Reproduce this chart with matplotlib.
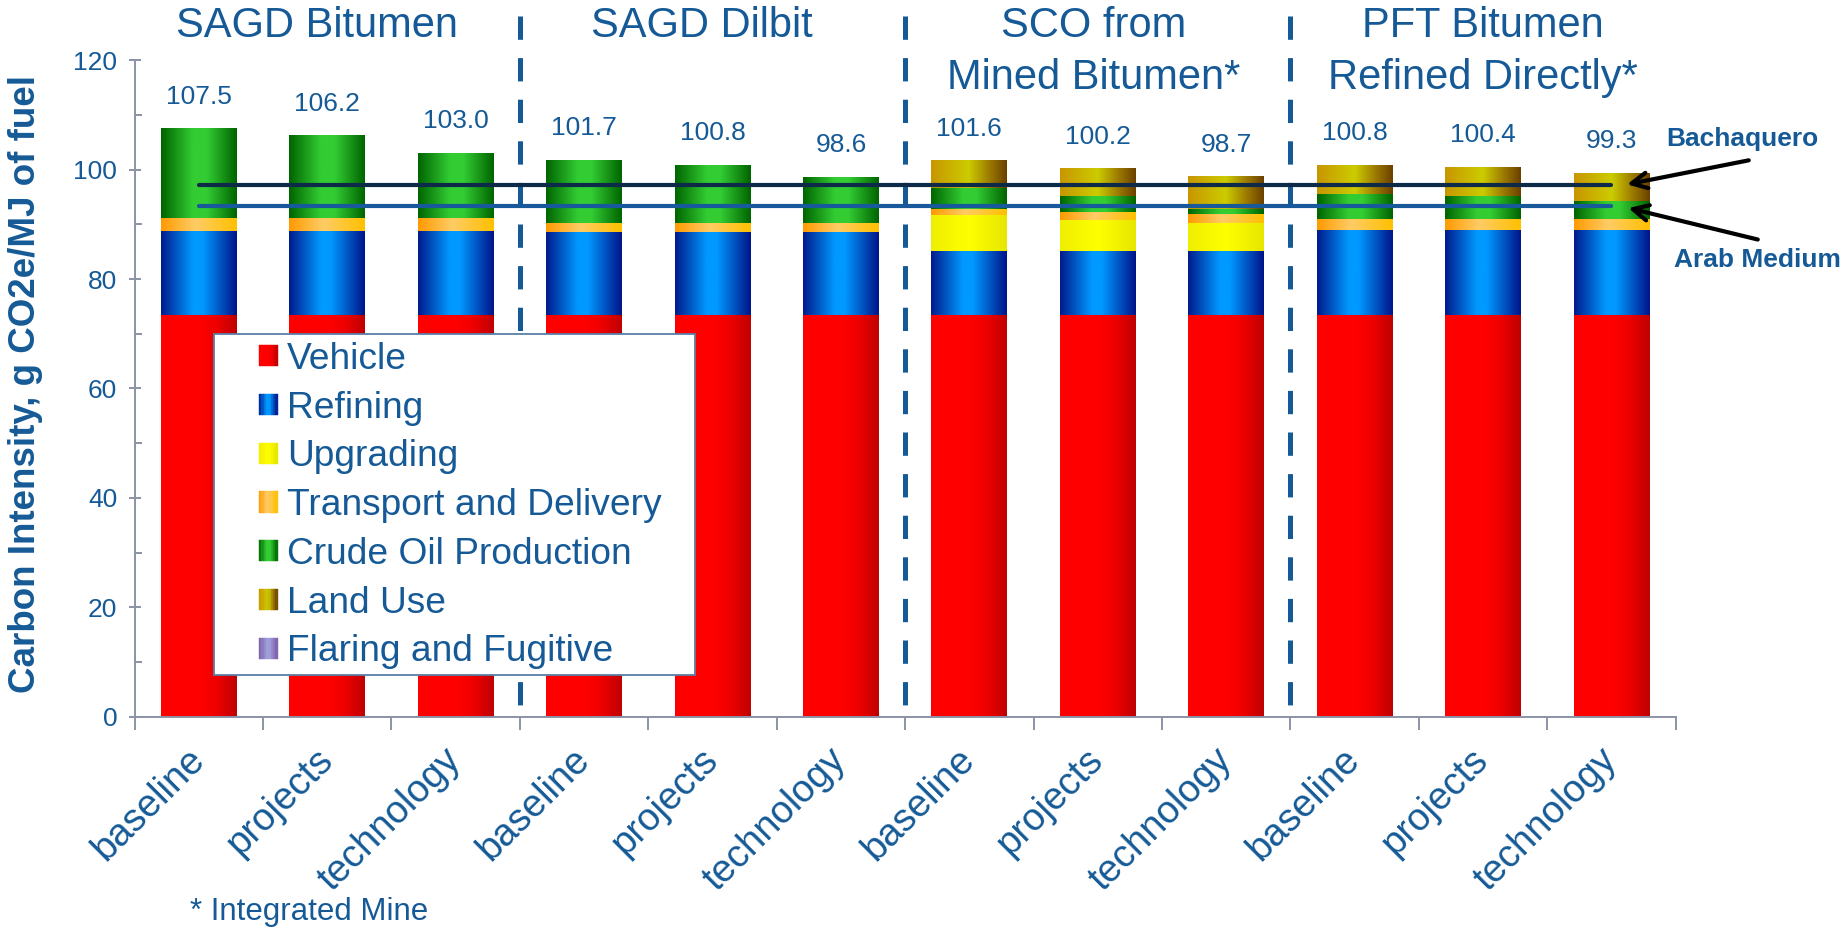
import numpy as np
import matplotlib
matplotlib.use("Agg")
import matplotlib.pyplot as plt
from matplotlib.colors import LinearSegmentedColormap
from matplotlib.patches import Patch, Rectangle
from matplotlib.legend_handler import HandlerBase

plt.rcParams['font.family'] = ['Liberation Sans', 'DejaVu Sans']

# Datos: intensidad de carbono por etapa (g CO2e/MJ)
grupos = ['SAGD Bitumen', 'SAGD Dilbit', 'SCO from\nMined Bitumen*', 'PFT Bitumen\nRefined Directly*']
casos = ['baseline', 'projects', 'technology'] * 4

vehicle = [73.5, 73.5, 73.5, 73.5, 73.5, 73.5, 73.5, 73.5, 73.5, 73.5, 73.5, 73.5]
refining = [15.3, 15.3, 15.3, 15.1, 15.1, 15.1, 11.7, 11.7, 11.7, 15.4, 15.4, 15.4]
upgrading = [0, 0, 0, 0, 0, 0, 6.5, 5.5, 5.1, 0, 0, 0]
transport = [2.4, 2.4, 2.4, 1.6, 1.6, 1.6, 1.1, 1.6, 1.6, 2.1, 2.1, 2.1]
crude = [16.3, 15.0, 11.8, 11.5, 10.6, 8.4, 3.8, 2.9, 0.9, 4.6, 4.1, 3.3]
land_use = [0, 0, 0, 0, 0, 0, 5.0, 5.0, 5.9, 5.2, 5.3, 5.0]
flaring = [0, 0, 0, 0, 0, 0, 0, 0, 0, 0, 0, 0]

bachaquero = 97.2
arab_medium = 93.3

# Colores con degradado horizontal para cada etapa
def degradado(nombre, puntos):
    return LinearSegmentedColormap.from_list(nombre, puntos)

series = [
    ('Vehicle', vehicle, degradado('veh', [(0, '#ff0000'), (0.5, '#ff0000'), (0.72, '#f00000'), (1, '#bf0000')])),
    ('Refining', refining, degradado('ref', [(0, '#001a8c'), (0.42, '#0099ff'), (0.55, '#0099ff'), (1, '#00148a')])),
    ('Upgrading', upgrading, degradado('upg', [(0, '#eeee00'), (0.5, '#ffff00'), (1, '#e6e600')])),
    ('Transport and Delivery', transport, degradado('tra', [(0, '#ff9a00'), (0.45, '#ffcc66'), (1, '#ffc000')])),
    ('Crude Oil Production', crude, degradado('cru', [(0, '#006400'), (0.42, '#33cc33'), (0.6, '#33cc33'), (1, '#006400')])),
    ('Land Use', land_use, degradado('lan', [(0, '#c89600'), (0.5, '#cccc00'), (0.75, '#a08000'), (1, '#6b4000')])),
    ('Flaring and Fugitive', flaring, degradado('fla', [(0, '#7b5fa8'), (0.5, '#a6a6e0'), (1, '#7b5fa8')])),
]

azul = '#155a96'
gris = '#8c93a6'
ancho = 0.59


class CuadroDegradado(HandlerBase):
    def __init__(self, cmap):
        super().__init__()
        self.cmap = cmap

    def create_artists(self, legend, orig_handle, xdescent, ydescent,
                       width, height, fontsize, trans):
        n = 8
        tiras = []
        for i in range(n):
            c = self.cmap((i + 0.5) / n)
            tiras.append(Rectangle((-xdescent + i * width / n, -ydescent), width / n, height,
                                   facecolor=c, edgecolor=c, lw=0.3, transform=trans))
        return tiras


fig = plt.figure(figsize=(18.45, 9.30), dpi=100)
ax = fig.add_axes([134.5 / 1845, 1 - 716.7 / 930, (1675.7 - 134.5) / 1845, (716.7 - 60.2) / 930])

x = np.arange(len(casos))
rampa = np.linspace(0, 1, 256).reshape(1, -1)
base = np.zeros(len(casos))
handles = []
handler_map = {}
for nombre, valores, cmap in series:
    barras = ax.bar(x, valores, ancho, bottom=base, color='none', edgecolor='none', zorder=2)
    for r in barras:
        if r.get_height() <= 0:
            continue
        x0, y0 = r.get_x(), r.get_y()
        ax.imshow(rampa, cmap=cmap, aspect='auto', interpolation='bilinear', zorder=2,
                  extent=(x0, x0 + r.get_width(), y0, y0 + r.get_height()))
    base = base + np.array(valores)
    h = Patch(label=nombre)
    handles.append(h)
    handler_map[h] = CuadroDegradado(cmap)

# Totales encima de cada barra
for xi, total in zip(x, base):
    ax.annotate(f'{total:.1f}', (xi, total), xytext=(0, 18), textcoords='offset points',
                ha='center', va='baseline', fontsize=19, color=azul)

# Crudos de referencia
ax.plot([x[0], x[-1]], [bachaquero, bachaquero], color='#0d2a48', lw=3.0, solid_capstyle='round', zorder=4)
ax.plot([x[0], x[-1]], [arab_medium, arab_medium], color='#17599a', lw=3.0, solid_capstyle='round', zorder=4)
ax.annotate('', xy=(11.1, bachaquero), xytext=(12.09, 101.8),
            arrowprops=dict(arrowstyle='->', color='black', lw=3, mutation_scale=28),
            annotation_clip=False)
ax.annotate('', xy=(11.11, arab_medium - 0.2), xytext=(12.16, 87.1),
            arrowprops=dict(arrowstyle='->', color='black', lw=3, mutation_scale=28),
            annotation_clip=False)
ax.text(12.02, 105.6, 'Bachaquero', ha='center', va='center', fontsize=19,
        fontweight='bold', color=azul, clip_on=False)
ax.text(12.14, 83.5, 'Arab Medium', ha='center', va='center', fontsize=19,
        fontweight='bold', color=azul, clip_on=False)

# Separadores entre grupos y sus títulos
desplaz = [-0.08, -0.08, -0.03, 0.0]
for i, g in enumerate(grupos):
    centro = 3 * i + 1 + desplaz[i]
    for j, linea in enumerate(g.split('\n')):
        ax.text(centro, 124.2 - 9.5 * j, linea, ha='center', va='baseline',
                fontsize=30, color=azul, clip_on=False)
    if i > 0:
        ax.plot([3 * i - 0.5, 3 * i - 0.5], [128, 0.3], color=azul, lw=3.6,
                linestyle=(0, (4.66, 3.66)), zorder=3, clip_on=False)

ax.set_xlim(-0.5, 11.5)
ax.set_ylim(0, 120)

for lado in ['top', 'right']:
    ax.spines[lado].set_visible(False)
for lado in ['left', 'bottom']:
    ax.spines[lado].set_color(gris)
    ax.spines[lado].set_linewidth(1.4)

ax.set_yticks(np.arange(0, 121, 20))
ax.set_yticks(np.arange(10, 120, 20), minor=True)
ax.tick_params(axis='y', which='major', direction='inout', length=9, width=1.4, color=gris,
               labelsize=19, labelcolor=azul, pad=8)
ax.tick_params(axis='y', which='minor', direction='in', length=5, width=1.4, color=gris)

ax.set_xticks(np.arange(-0.5, 12, 1))
ax.set_xticklabels([])
ax.set_xticks(x, minor=True)
ax.set_xticklabels(casos, minor=True, rotation=45, ha='right', va='center',
                   rotation_mode='anchor')
ax.tick_params(axis='x', which='major', direction='out', length=9, width=1.4, color=gris)
ax.tick_params(axis='x', which='minor', length=0, pad=27, labelsize=27.5, labelcolor=azul)

fig.text(26 / 1845, 1 - 383.6 / 930, 'Carbon Intensity, g CO2e/MJ of fuel', rotation=90,
         ha='center', va='center', fontsize=26.5, fontweight='bold', color=azul,
         family=['Liberation Sans Narrow', 'Liberation Sans'])
fig.text(190 / 1845, 1 - 911.7 / 930, '* Integrated Mine', va='center', ha='left',
         fontsize=22.5, color=azul)

# Leyenda con marco blanco
marco = Rectangle((214 / 1845, 1 - 675 / 930), (695 - 214) / 1845, (675 - 334) / 930,
                  transform=fig.transFigure, facecolor='white', edgecolor='#5a7fa8',
                  lw=1.3, zorder=4.5, clip_on=False)
ax.add_artist(marco)
ley = ax.legend(handles=handles, handler_map=handler_map, loc='upper left',
                bbox_to_anchor=(259 / 1845, 1 - 342 / 930), bbox_transform=fig.transFigure,
                frameon=False, borderpad=0, borderaxespad=0, fontsize=26.7,
                handlelength=0.5, handleheight=0.5, handletextpad=0.25,
                labelspacing=0.37, labelcolor=azul)
ley.set_zorder(5)

fig.savefig('out.png', dpi=100)
